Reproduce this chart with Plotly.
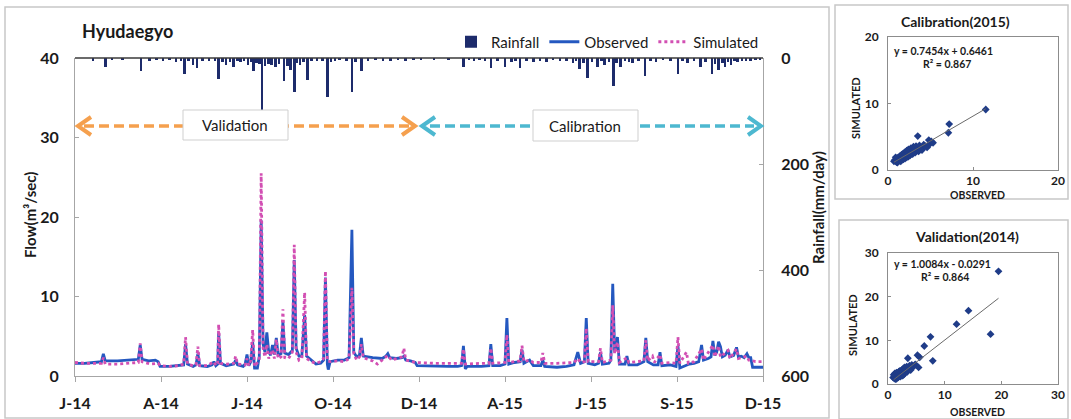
import plotly.graph_objects as go
import pandas as pd

W, H = 1071, 419
FONT = "Lato"
START = "2014-01-01"

# ---------------- data ----------------
TICK_DATES = ["2014-01-01", "2014-04-02", "2014-07-02", "2014-10-01", "2014-12-31",
              "2015-04-01", "2015-07-01", "2015-09-30", "2015-12-30"]
TICK_LABELS = ["J-14", "A-14", "J-14", "O-14", "D-14", "A-15", "J-15", "S-15", "D-15"]

# day offsets from 2014-01-01 and observed flow (m3/sec)
OBS_DAY = [0, 10, 20, 28, 30, 32, 45, 60, 67, 69, 71, 78, 85, 88, 90, 100, 110, 115, 117, 119,
           125, 128, 130, 132, 140, 145, 147, 149, 151, 152, 154, 160, 168, 170, 172, 178, 180, 182, 184, 186,
           188, 190, 193, 195, 197, 199, 201, 203, 205, 207, 209, 211, 213, 215, 218, 220, 222, 226, 230, 232,
           234, 237, 240, 243, 245, 250, 255, 260, 263, 265, 267, 268, 270, 278, 285, 290, 293, 295, 298, 301,
           303, 305, 315, 325, 329, 331, 333, 340, 346, 348, 350, 355, 360, 362, 380, 395, 405, 409, 411, 413,
           415, 430, 438, 440, 442, 450, 455, 457, 459, 465, 471, 473, 475, 481, 485, 493, 495, 497, 510, 520,
           528, 532, 535, 539, 541, 543, 550, 554, 556, 558, 565, 567, 569, 571, 574, 576, 582, 584, 586, 595,
           602, 604, 606, 612, 617, 619, 621, 630, 636, 638, 640, 645, 650, 655, 660, 663, 665, 670, 673, 675,
           677, 679, 681, 683, 685, 688, 691, 693, 697, 700, 702, 705, 708, 711, 713, 715, 717, 728]
OBS_VAL = [1.6, 1.6, 1.7, 1.8, 2.8, 1.9, 1.9, 2.0, 2.1, 3.9, 2.1, 1.9, 2.0, 1.8, 1.2, 1.2, 1.3, 1.4, 4.0, 1.5,
           1.2, 1.4, 2.8, 1.3, 1.2, 1.4, 1.8, 1.3, 1.5, 5.4, 1.6, 1.3, 1.5, 2.0, 1.4, 1.2, 1.5, 2.7, 1.3, 1.8,
           4.3, 1.0, 1.0, 2.5, 19.6, 4.0, 3.0, 5.5, 3.0, 2.6, 3.9, 2.7, 4.8, 2.6, 2.8, 6.8, 2.9, 2.7, 3.2, 14.6,
           3.5, 2.5, 2.5, 7.7, 2.5, 2.0, 1.5, 1.6, 2.0, 12.4, 1.5, 0.8, 1.8, 2.0, 2.0, 2.3, 18.4, 3.0, 2.4, 2.6,
           4.8, 2.5, 2.3, 2.2, 2.5, 2.8, 2.3, 2.2, 2.3, 2.5, 2.0, 1.9, 1.7, 1.3, 1.2, 1.2, 1.2, 1.3, 3.8, 0.9,
           1.2, 1.2, 1.3, 4.0, 1.3, 1.3, 1.5, 7.3, 1.5, 1.7, 1.8, 3.3, 1.6, 2.0, 1.3, 1.3, 2.0, 1.2, 1.1, 1.2,
           1.4, 3.0, 1.6, 1.8, 7.3, 1.6, 1.4, 1.6, 3.0, 1.5, 1.6, 2.0, 11.6, 3.0, 4.9, 1.5, 1.5, 2.5, 1.4, 1.4,
           1.8, 4.8, 1.8, 1.4, 1.4, 3.0, 1.3, 1.4, 1.2, 3.8, 1.0, 1.3, 1.5, 1.6, 1.8, 3.9, 2.0, 2.2, 2.4, 4.4,
           2.6, 3.0, 4.3, 3.7, 2.4, 2.6, 3.3, 2.4, 2.6, 3.6, 2.4, 2.5, 2.3, 2.8, 2.3, 2.3, 1.1, 1.1]

SIM_DAY = [0, 10, 20, 28, 30, 32, 45, 60, 67, 69, 71, 80, 88, 90, 100, 110, 115, 117, 119, 125,
           128, 130, 132, 140, 147, 149, 151, 152, 154, 160, 168, 170, 172, 180, 182, 184, 186, 188, 190, 195,
           197, 199, 201, 203, 205, 209, 211, 213, 215, 218, 220, 222, 226, 230, 232, 234, 237, 240, 243, 245,
           250, 255, 260, 263, 265, 267, 270, 278, 285, 290, 293, 295, 298, 301, 303, 305, 315, 320, 325, 331,
           335, 346, 348, 350, 360, 380, 400, 409, 411, 413, 430, 438, 440, 442, 455, 457, 459, 471, 473, 475,
           481, 485, 493, 495, 497, 510, 528, 532, 535, 539, 541, 543, 554, 556, 558, 567, 569, 571, 574, 576,
           584, 586, 602, 604, 606, 611, 613, 619, 621, 630, 636, 638, 640, 647, 649, 655, 663, 665, 675, 677,
           681, 683, 691, 693, 700, 702, 711, 713, 715, 720, 728]
SIM_VAL = [1.7, 1.6, 1.6, 1.6, 2.3, 1.5, 1.5, 1.6, 1.7, 4.1, 1.8, 1.5, 1.6, 1.3, 1.2, 1.3, 1.5, 4.9, 1.5, 1.3,
           1.4, 3.7, 1.3, 1.3, 1.8, 1.3, 1.6, 6.5, 1.6, 1.5, 1.6, 2.5, 1.5, 1.4, 2.2, 1.3, 2.0, 5.8, 1.2, 2.0,
           25.5, 3.5, 2.4, 4.0, 2.2, 3.3, 2.2, 4.6, 2.2, 2.4, 8.4, 2.3, 2.2, 3.0, 16.5, 3.0, 2.0, 2.2, 10.5, 2.2,
           1.8, 1.6, 1.8, 2.2, 13.2, 1.9, 1.8, 1.9, 1.8, 2.2, 11.1, 2.8, 2.0, 2.4, 4.0, 2.3, 1.9, 1.5, 2.0, 2.6,
           2.0, 2.4, 3.5, 2.0, 1.7, 1.6, 1.6, 1.6, 3.4, 1.5, 1.6, 1.6, 3.5, 1.6, 1.7, 5.2, 1.7, 1.9, 3.8, 1.8,
           2.0, 1.7, 1.7, 2.9, 1.6, 1.6, 1.7, 2.2, 1.7, 1.8, 6.0, 1.8, 1.8, 3.5, 1.7, 2.0, 8.9, 2.8, 4.3, 1.7,
           2.3, 1.7, 1.9, 4.5, 1.9, 2.5, 1.7, 2.7, 1.6, 1.7, 1.6, 4.9, 1.6, 3.0, 1.6, 1.8, 3.4, 2.0, 3.9, 2.4,
           3.8, 2.4, 3.2, 2.2, 3.4, 2.2, 2.5, 2.0, 2.0, 1.8, 1.8]

RAIN_DAY = [19, 32, 39, 50, 70, 79, 86, 93, 100, 107, 112, 116, 120, 125, 129, 135, 142, 148, 152, 156,
            160, 164, 168, 172, 175, 179, 183, 186, 189, 192, 195, 198, 201, 205, 208, 212, 216, 221, 225, 228,
            232, 235, 238, 242, 246, 250, 256, 262, 267, 271, 275, 280, 287, 293, 297, 303, 310, 318, 326, 334,
            342, 350, 358, 366, 380, 395, 411, 417, 422, 428, 434, 440, 447, 455, 462, 466, 471, 478, 485, 492,
            499, 506, 513, 520, 527, 530, 534, 538, 542, 547, 553, 557, 560, 565, 570, 573, 577, 582, 586, 590,
            596, 603, 609, 615, 622, 630, 638, 643, 648, 655, 662, 667, 674, 677, 681, 685, 688, 691, 694, 698,
            701, 706, 710, 715, 720, 725]
RAIN_MM = [6, 17, 4, 3, 25, 6, 4, 6, 4, 8, 5, 30, 6, 14, 19, 5, 6, 5, 39, 8,
           13, 8, 17, 6, 8, 5, 14, 8, 25, 10, 12, 99, 15, 11, 14, 17, 12, 44, 15, 23,
           64, 10, 14, 8, 42, 6, 5, 6, 74, 8, 6, 4, 5, 64, 8, 25, 5, 4, 6, 5,
           4, 5, 3, 3, 2, 2, 17, 4, 5, 4, 6, 19, 5, 17, 8, 5, 19, 6, 8, 5,
           8, 4, 6, 5, 9, 6, 20, 10, 38, 8, 17, 6, 14, 8, 53, 10, 17, 6, 8, 10,
           6, 34, 6, 8, 4, 5, 31, 6, 10, 5, 17, 8, 30, 12, 23, 10, 17, 8, 14, 6,
           8, 5, 6, 5, 4, 3]

# scatter insets
CAL_OBS = [0.7, 0.8, 0.9, 1.0, 1.0, 1.1, 1.2, 1.2, 1.3, 1.4, 1.4, 1.5, 1.6, 1.6, 1.7, 1.8, 1.8, 1.9, 2.0, 2.0,
           2.1, 2.2, 2.2, 2.3, 2.4, 2.4, 2.5, 2.6, 2.7, 2.8, 2.9, 3.0, 3.0, 3.2, 3.3, 3.4, 3.5, 3.6, 3.7, 3.9,
           4.0, 4.2, 4.4, 4.6, 4.8, 4.9, 5.1, 5.3, 7.2, 7.1, 11.5, 1.1, 1.5, 0.9]
CAL_SIM = [1.3, 1.5, 1.4, 1.2, 1.7, 1.5, 1.3, 1.9, 1.6, 1.4, 2.1, 1.8, 1.5, 2.3, 1.9, 1.6, 2.5, 2.1, 1.7, 2.7,
           2.3, 1.9, 2.9, 2.4, 2.0, 3.1, 2.6, 2.2, 3.3, 2.7, 2.4, 3.5, 2.9, 2.6, 3.6, 3.1, 5.1, 2.8, 3.7, 3.3,
           3.0, 3.8, 3.6, 3.4, 4.5, 3.9, 4.3, 4.1, 6.9, 5.6, 9.1, 1.1, 1.3, 1.9]
CAL_FIT = (0.7454, 0.6461)
CAL_FIT_X = [0.7, 11.5]

VAL_OBS = [0.9, 1.0, 1.1, 1.2, 1.2, 1.3, 1.4, 1.5, 1.5, 1.6, 1.7, 1.8, 1.9, 2.0, 2.0, 2.1, 2.2, 2.3, 2.4, 2.5,
           2.6, 2.7, 2.8, 2.9, 3.0, 3.1, 3.3, 3.4, 3.6, 3.8, 4.0, 4.2, 4.5, 4.8, 3.5, 5.2, 5.6, 5.4, 6.4, 7.9,
           7.5, 12.1, 14.2, 18.1, 19.5, 1.3, 1.8, 2.6]
VAL_SIM = [1.5, 2.1, 1.3, 1.8, 2.4, 1.4, 2.0, 1.2, 2.6, 1.6, 2.2, 1.5, 2.8, 1.8, 2.3, 3.0, 1.7, 2.5, 3.2, 2.0,
           2.9, 3.5, 2.2, 3.8, 2.6, 3.3, 4.0, 2.8, 3.6, 4.2, 3.2, 4.4, 4.0, 4.5, 5.9, 6.6, 6.1, 3.8, 8.7, 5.3,
           10.8, 13.7, 16.8, 11.4, 25.8, 1.1, 1.6, 1.9]
VAL_FIT = (1.0084, -0.0291)
VAL_FIT_X = [1.0, 19.5]

# ---------------- helpers ----------------
def to_dates(days):
    base = pd.Timestamp(START)
    return [base + pd.Timedelta(days=int(d)) for d in days]

def px(x):
    return x / W

def py(y):
    return 1 - y / H

NAVY = "#1d2b6b"
BLUE = "#2458c0"
PINK = "#d24fb3"
TXT = "#1a1a1a"
GREY = "#a6a6a6"

fig = go.Figure()

fig.add_trace(go.Bar(
    x=to_dates(RAIN_DAY), y=RAIN_MM, base=0, yaxis="y2", xaxis="x",
    name="Rainfall", marker=dict(color=NAVY, line=dict(width=0)),
    width=2.7 * 86400000,
))
fig.add_trace(go.Scatter(
    x=to_dates(OBS_DAY), y=OBS_VAL, mode="lines", name="Observed",
    line=dict(color=BLUE, width=2.8), xaxis="x", yaxis="y",
))
fig.add_trace(go.Scatter(
    x=to_dates(SIM_DAY), y=SIM_VAL, mode="lines", name="Simulated",
    line=dict(color=PINK, width=2.8, dash="dot"), xaxis="x", yaxis="y",
))

# inset scatters
fig.add_trace(go.Scatter(x=CAL_OBS, y=CAL_SIM, mode="markers", xaxis="x2", yaxis="y3",
                         marker=dict(symbol="diamond", size=6, color="#1f3c88"), showlegend=False))
fig.add_trace(go.Scatter(x=CAL_FIT_X, y=[CAL_FIT[0] * v + CAL_FIT[1] for v in CAL_FIT_X], mode="lines",
                         xaxis="x2", yaxis="y3", line=dict(color="#6a6a6a", width=1), showlegend=False))
fig.add_trace(go.Scatter(x=VAL_OBS, y=VAL_SIM, mode="markers", xaxis="x3", yaxis="y4",
                         marker=dict(symbol="diamond", size=6, color="#1f3c88"), showlegend=False))
fig.add_trace(go.Scatter(x=VAL_FIT_X, y=[VAL_FIT[0] * v + VAL_FIT[1] for v in VAL_FIT_X], mode="lines",
                         xaxis="x3", yaxis="y4", line=dict(color="#6a6a6a", width=1), showlegend=False))

tickfont_main = dict(family=FONT, size=16, color=TXT, weight="bold")
tickfont_small = dict(family=FONT, size=12, color=TXT, weight="bold")

fig.update_layout(
    width=W, height=H, margin=dict(l=0, r=0, t=0, b=0, autoexpand=False),
    paper_bgcolor="white", plot_bgcolor="white",
    bargap=0, showlegend=True,
    legend=dict(orientation="h", x=px(764), xanchor="right", y=py(42), yanchor="middle",
                font=dict(family=FONT, size=15, color=TXT), bgcolor="rgba(0,0,0,0)",
                traceorder="normal", itemwidth=30, tracegroupgap=0),
    xaxis=dict(domain=[px(75), px(763)], anchor="y", type="date", automargin=False,
               range=[TICK_DATES[0], TICK_DATES[-1]],
               tickvals=TICK_DATES, ticktext=TICK_LABELS, tickfont=tickfont_main,
               showline=True, linecolor=GREY, linewidth=1, ticks="outside", ticklen=5,
               tickcolor=GREY, showgrid=False, zeroline=False, ticklabelstandoff=8),
    yaxis=dict(domain=[py(376), py(58)], anchor="x", range=[0, 40], tickvals=[0, 10, 20, 30, 40],
               automargin=False,
               tickfont=tickfont_main, showline=True, linecolor=GREY, linewidth=1,
               ticks="inside", ticklen=4, tickcolor=GREY, showgrid=False, zeroline=False,
               ticklabelstandoff=12),
    yaxis2=dict(overlaying="y", side="right", anchor="x", range=[600, 0], automargin=False,
                tickvals=[0, 200, 400, 600], tickfont=tickfont_main,
                showline=True, linecolor=GREY, linewidth=1, ticks="inside", ticklen=4,
                tickcolor=GREY, showgrid=False, zeroline=False, ticklabelstandoff=14),
    xaxis2=dict(domain=[px(888), px(1058)], anchor="y3", range=[0, 20], tickvals=[0, 10, 20],
                automargin=False,
                tickfont=tickfont_small, showline=True, mirror=True, linecolor="#8c8c8c",
                ticks="inside", ticklen=3, tickcolor="#8c8c8c", showgrid=False, zeroline=False),
    yaxis3=dict(domain=[py(170), py(37)], anchor="x2", range=[0, 20], tickvals=[0, 10, 20],
                automargin=False,
                tickfont=tickfont_small, showline=True, mirror=True, linecolor="#8c8c8c",
                ticks="inside", ticklen=3, tickcolor="#8c8c8c", showgrid=False, zeroline=False,
                ticklabelstandoff=6),
    xaxis3=dict(domain=[px(888), px(1058)], anchor="y4", range=[0, 30], tickvals=[0, 10, 20, 30],
                automargin=False,
                tickfont=tickfont_small, showline=True, mirror=True, linecolor="#8c8c8c",
                ticks="inside", ticklen=3, tickcolor="#8c8c8c", showgrid=False, zeroline=False),
    yaxis4=dict(domain=[py(384), py(253)], anchor="x3", range=[0, 30], tickvals=[0, 10, 20, 30],
                automargin=False,
                tickfont=tickfont_small, showline=True, mirror=True, linecolor="#8c8c8c",
                ticks="inside", ticklen=3, tickcolor="#8c8c8c", showgrid=False, zeroline=False,
                ticklabelstandoff=6),
)

shapes = []
BOX = "#c8c8c8"
# panel borders
shapes.append(dict(type="rect", xref="paper", yref="paper", x0=px(5), x1=px(829), y0=py(418), y1=py(7),
                   line=dict(color=BOX, width=1.5), fillcolor="rgba(0,0,0,0)", layer="below"))
shapes.append(dict(type="rect", xref="paper", yref="paper", x0=px(835), x1=px(1068), y0=py(199), y1=py(5),
                   line=dict(color=BOX, width=1.5), fillcolor="rgba(0,0,0,0)", layer="below"))
shapes.append(dict(type="rect", xref="paper", yref="paper", x0=px(839), x1=px(1068), y0=py(419), y1=py(220),
                   line=dict(color=BOX, width=1.5), fillcolor="rgba(0,0,0,0)", layer="below"))
# top dark line of main plot
shapes.append(dict(type="line", xref="paper", yref="paper", x0=px(75), x1=px(763), y0=py(58), y1=py(58),
                   line=dict(color="#3a3a3a", width=1.5)))

ORANGE = "#f5a04e"
CYAN = "#4db8d0"
AY = 126
def chevron(tip_x, direction, color):
    back = tip_x + 13 * direction
    return dict(type="path", xref="paper", yref="paper",
                path=f"M {px(back)},{py(AY - 9)} L {px(tip_x)},{py(AY)} L {px(back)},{py(AY + 9)}",
                line=dict(color=color, width=4))

shapes.append(dict(type="line", xref="paper", yref="paper", x0=px(84), x1=px(410), y0=py(AY), y1=py(AY),
                   line=dict(color=ORANGE, width=3.5, dash="10px,5px")))
shapes.append(chevron(78, 1, ORANGE))
shapes.append(chevron(415, -1, ORANGE))
shapes.append(dict(type="line", xref="paper", yref="paper", x0=px(430), x1=px(754), y0=py(AY), y1=py(AY),
                   line=dict(color=CYAN, width=3.5, dash="10px,5px")))
shapes.append(chevron(422, 1, CYAN))
shapes.append(chevron(761, -1, CYAN))
# text boxes
shapes.append(dict(type="rect", xref="paper", yref="paper", x0=px(183), x1=px(288), y0=py(140), y1=py(110),
                   line=dict(color="#cfcfcf", width=1), fillcolor="white"))
shapes.append(dict(type="rect", xref="paper", yref="paper", x0=px(533), x1=px(638), y0=py(141), y1=py(110),
                   line=dict(color="#cfcfcf", width=1), fillcolor="white"))
fig.update_layout(shapes=shapes)

def ann(text, x, y, size, bold=True, xanchor="center", angle=0, color=TXT):
    return dict(text=text, x=px(x), y=py(y), xref="paper", yref="paper", showarrow=False,
                xanchor=xanchor, yanchor="middle", textangle=angle,
                font=dict(family=FONT, size=size, color=color, weight="bold" if bold else "normal"))

annotations = [
    ann("Hyudaegyo", 80, 31, 18, xanchor="left"),
    ann("Flow(m³/sec)", 30, 215, 15, angle=-90),
    ann("Rainfall(mm/day)", 818, 208, 15, angle=-90),
    ann("Validation", 235, 125, 15, bold=False),
    ann("Calibration", 585, 126, 15, bold=False),
    ann("Calibration(2015)", 955, 22, 14),
    ann("y = 0.7454x + 0.6461", 892, 51, 10.5, xanchor="left"),
    ann("R² = 0.867", 947, 64, 10.5),
    ann("SIMULATED", 855, 108, 11, angle=-90),
    ann("OBSERVED", 977, 195, 10.5),
    ann("Validation(2014)", 967, 236, 14),
    ann("y = 1.0084x - 0.0291", 892, 264, 10.5, xanchor="left"),
    ann("R² = 0.864", 945, 277, 10.5),
    ann("SIMULATED", 852, 325, 11, angle=-90),
    ann("OBSERVED", 977, 412, 10.5),
]
fig.update_layout(annotations=annotations)

fig.write_html("out.html")
